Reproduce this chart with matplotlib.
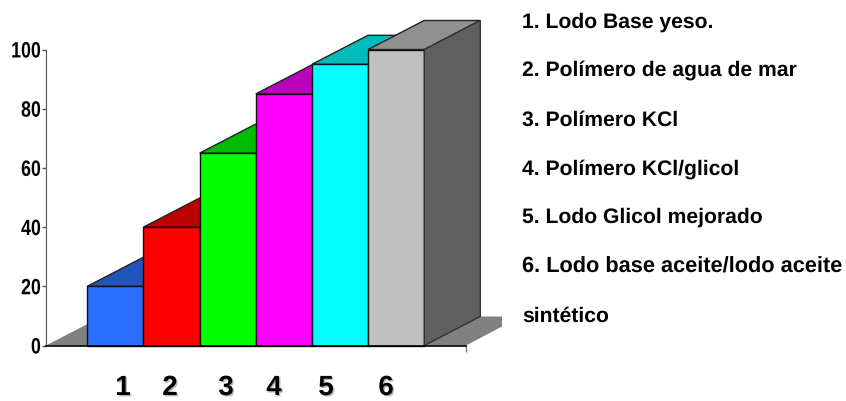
import matplotlib
matplotlib.use("Agg")
import matplotlib.pyplot as plt
import matplotlib.patheffects as pe
from matplotlib.patches import Polygon
from matplotlib.transforms import Affine2D

# values
cats = [1, 2, 3, 4, 5, 6]
vals = [20, 40, 65, 85, 95, 100]
front_cols = ['#2b6fff', '#ff0000', '#00ff00', '#ff00ff', '#00ffff', '#c0c0c0']
top_cols = ['#2255bb', '#bb0000', '#00bb00', '#bb00bb', '#00bbbb', '#909090']
yticks = [0, 20, 40, 60, 80, 100]
legend_lines = ['1. Lodo Base yeso.', '2. Polímero de agua de mar', '3. Polímero KCl',
                '4. Polímero KCl/glicol', '5. Lodo Glicol mejorado',
                '6. Lodo base aceite/lodo aceite', 'sintético']
legend_base = [27.5, 76, 126, 175, 223, 273, 322]
legend_size = [15.2, 15.2, 15.2, 15.2, 15.2, 15.7, 15.2]
cat_label_x = [123, 170, 226, 274, 326, 386]

W, H = 846, 401


class Squeeze(pe.AbstractPathEffect):
    # narrow the tick labels, the original font is a condensed one
    def __init__(self, right, sx):
        super().__init__()
        self.right, self.sx = right, sx

    def draw_path(self, renderer, gc, tpath, affine, rgbFace=None):
        squeeze = Affine2D().translate(-self.right, 0).scale(self.sx, 1).translate(self.right, 0)
        renderer.draw_path(gc, tpath, affine+squeeze, rgbFace)


plt.rcParams['font.family'] = ['Liberation Sans', 'DejaVu Sans']
plt.rcParams['text.hinting'] = 'none'
fig = plt.figure(figsize=(W/100, H/100), dpi=100)
# plot box in pixels: x 46.5..466, y 345.5..49.5
ax = fig.add_axes([46/W, 1-345.5/H, (466-46)/W, (345.5-49.5)/H])
bw = 56.17  # px per category
ax.set_xlim(0.5-41.3/bw, 0.5+(466-87.3)/bw)
ax.set_ylim(0, 100)
dx, dy = 56/bw, 29/2.96  # depth of the 3D look

# floor
floor_l, floor_r = ax.get_xlim()
ax.add_patch(Polygon([(floor_l, 0), (floor_r, 0), (floor_r+36/bw, 19/2.96), (floor_r+36/bw, dy),
                      (floor_l+dx, dy)], closed=True, fc='#808080', ec='none', zorder=1, clip_on=False))

for i, (c, v) in enumerate(zip(cats, vals)):
    z = 2+i*2
    l, r = c-.5, c+.5
    ax.add_patch(Polygon([(l, v), (r, v), (r+dx, v+dy), (l+dx, v+dy)], closed=True, fc=top_cols[i],
                         ec='#222222', lw=1, zorder=z, clip_on=False))
    ax.bar(c, v, width=1, color=front_cols[i], edgecolor='#111111', lw=1, zorder=z+1, clip_on=False)

# side of the last bar
r = cats[-1]+.5
ax.add_patch(Polygon([(r, 0), (r+dx, dy), (r+dx, vals[-1]+dy), (r, vals[-1])], closed=True, fc='#606060',
                     ec='#333333', lw=1, zorder=20, clip_on=False))

for s in ['top', 'right']:
    ax.spines[s].set_visible(False)
ax.spines['left'].set_color('#555555')
ax.spines['bottom'].set_color('black')
ax.spines['bottom'].set_linewidth(1.2)
ax.spines['bottom'].set_zorder(30)
ax.set_xticks([floor_r])
ax.set_xticklabels([''])
ax.tick_params(axis='x', length=4, width=1, color='#777777')
ax.set_yticks(yticks)
ax.tick_params(axis='y', length=3, width=1, pad=1, labelsize=16, color='#555555')
for t in ax.get_yticklabels():
    t.set_fontweight('bold')
    t.set_path_effects([Squeeze(42.5, 0.8)])

for lab, x in zip(cats, cat_label_x):
    fig.text(x/W, 1-395/H, str(lab), fontsize=20, fontweight='bold', ha='center', va='baseline',
             path_effects=[pe.withSimplePatchShadow(offset=(1, -1), shadow_rgbFace='#888888', alpha=.6)])
for txt, y, fs in zip(legend_lines, legend_base, legend_size):
    fig.text(522/W, 1-y/H, txt, fontsize=fs, fontweight='bold', ha='left', va='baseline')

fig.savefig('out.png', dpi=100)
